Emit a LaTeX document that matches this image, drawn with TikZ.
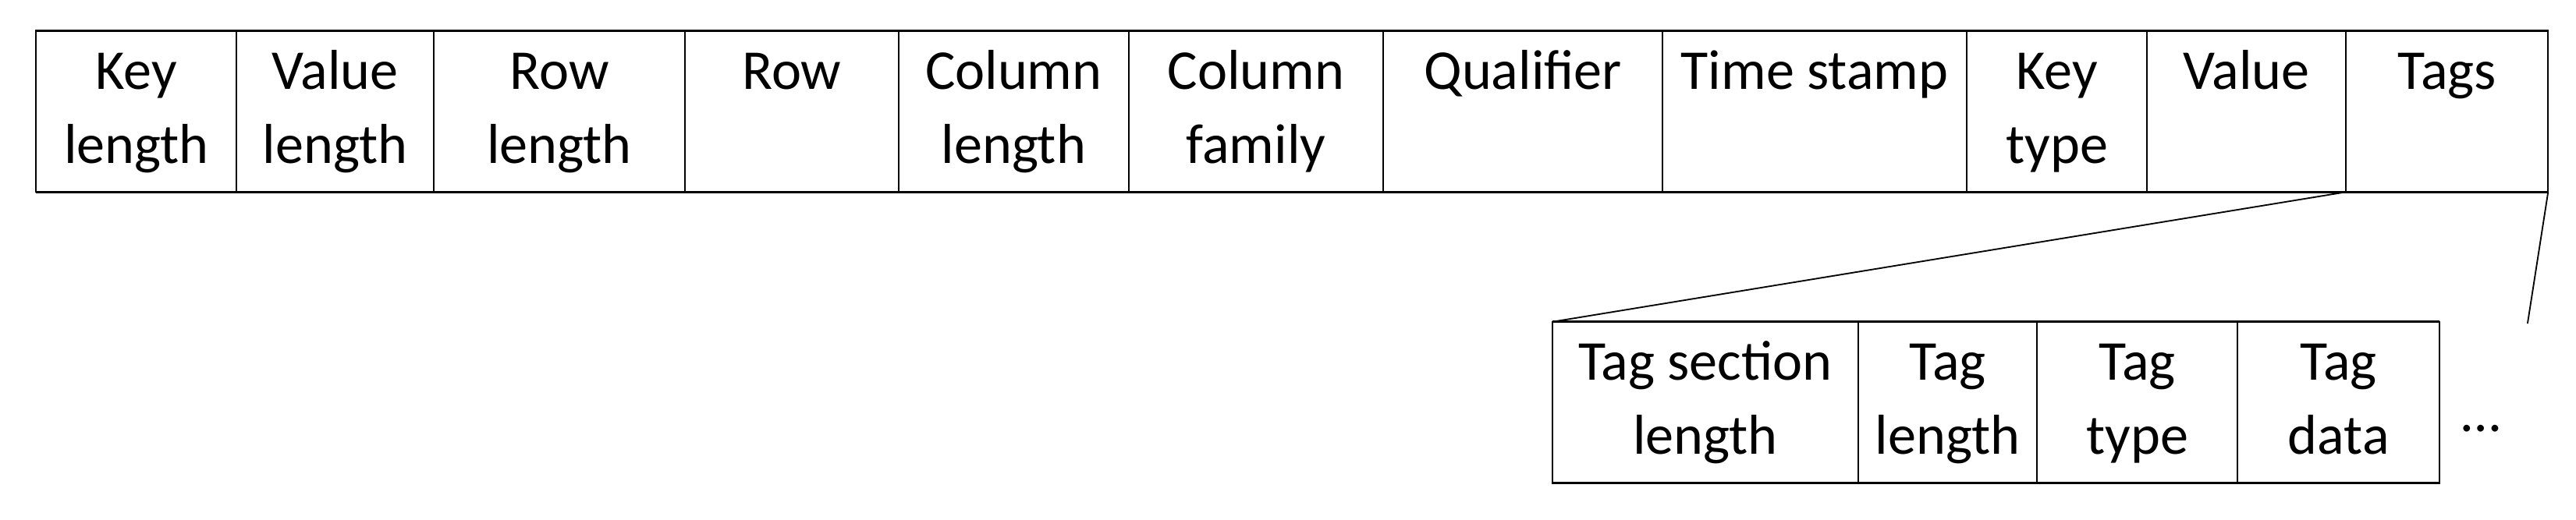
\documentclass[tikz,border=0pt]{standalone}
\usepackage{fontspec}
\setmainfont{Carlito}
\usepackage{tikz}
\usetikzlibrary{positioning}
\tikzstyle{fieldblock} = [rectangle, draw, line width=0.5pt, align=center,
    inner sep=0pt, outer sep=0pt, minimum height=1.965cm, font=\fontsize{19.5}{25.6}\selectfont]
\tikzstyle{rim} = [line width=0.85pt]
\tikzstyle{link} = [line width=0.5pt]
\newcommand{\fieldtext}[2]{\strut #1\\\strut #2}

\begin{document}
\begin{tikzpicture}[node distance = 0pt]
    \useasboundingbox (0,0) rectangle (31.36,-6.326);
    % KeyValue fields
    \node [fieldblock, minimum width=2.44cm, anchor=north west] (keylen) at (0.44,-0.374) {\fieldtext{Key}{length}};
    \node [fieldblock, minimum width=2.40cm, right=of keylen] (vallen) {\fieldtext{Value}{length}};
    \node [fieldblock, minimum width=3.06cm, right=of vallen] (rowlen) {\fieldtext{Row}{length}};
    \node [fieldblock, minimum width=2.60cm, right=of rowlen] (row) {\fieldtext{Row}{}};
    \node [fieldblock, minimum width=2.80cm, right=of row] (collen) {\fieldtext{Column}{length}};
    \node [fieldblock, minimum width=3.10cm, right=of collen] (colfam) {\fieldtext{Column}{family}};
    \node [fieldblock, minimum width=3.40cm, right=of colfam] (qual) {\fieldtext{Qualifier}{}};
    \node [fieldblock, minimum width=3.70cm, right=of qual] (tstamp) {\fieldtext{Time stamp}{}};
    \node [fieldblock, minimum width=2.20cm, right=of tstamp] (keytype) {\fieldtext{Key}{type}};
    \node [fieldblock, minimum width=2.42cm, right=of keytype] (value) {\fieldtext{Value}{}};
    \node [fieldblock, minimum width=2.46cm, right=of value] (tags) {\fieldtext{Tags}{}};
    % Tag fields
    \node [fieldblock, minimum width=3.72cm, anchor=north west] (tagsec) at (18.90,-3.92) {\fieldtext{Tag section}{length}};
    \node [fieldblock, minimum width=2.18cm, right=of tagsec] (taglen) {\fieldtext{Tag}{length}};
    \node [fieldblock, minimum width=2.44cm, right=of taglen] (tagtype) {\fieldtext{Tag}{type}};
    \node [fieldblock, minimum width=2.46cm, right=of tagtype] (tagdata) {\fieldtext{Tag}{data}};
    \node [inner sep=0pt, font=\fontsize{19.5}{25.6}\selectfont] (more) at (30.20,-5.22) {\ldots};
    \coordinate (tagend) at (30.77,-3.94);
    % Outer borders
    \draw [rim] (keylen.north west) -- (tags.north east);
    \draw [rim] (keylen.south west) -- (tags.south east);
    \draw [rim] (tagsec.north west) -- (tagdata.north east);
    \draw [rim] (tagsec.south west) -- (tagdata.south east);
    % Draw edges
    \draw [link] (tags.south west) -- (tagsec.north west);
    \draw [link] (tags.south east) -- (tagend);
\end{tikzpicture}
\end{document}
